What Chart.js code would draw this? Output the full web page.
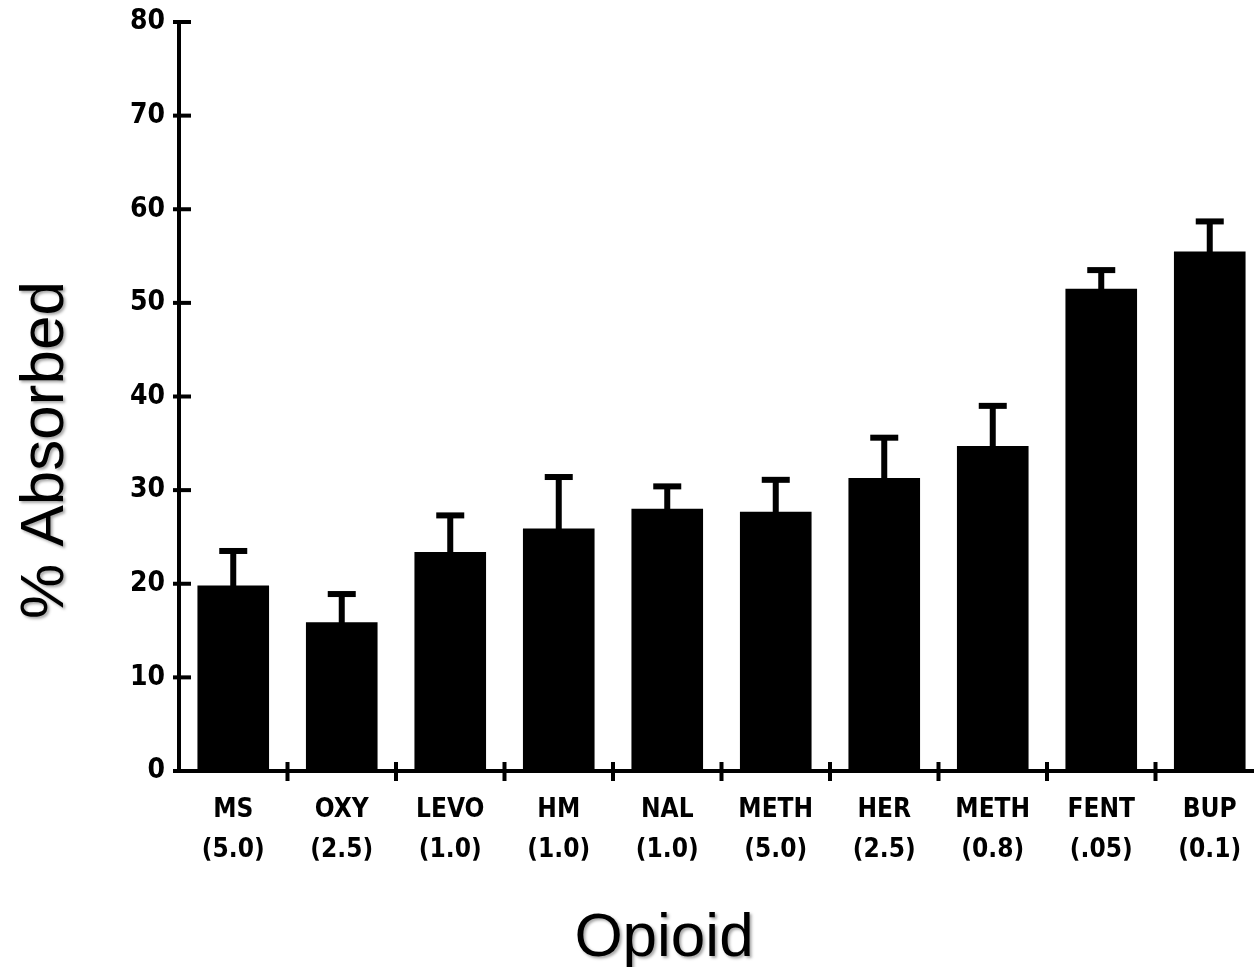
<!DOCTYPE html>
<html>
<head>
<meta charset="utf-8">
<script src="https://cdn.jsdelivr.net/npm/chart.js@4.4.1/dist/chart.umd.min.js"></script>
<style>
  html, body { margin: 0; padding: 0; background: #ffffff; overflow: hidden; }
  #wrap { position: relative; width: 1276px; height: 967px; }
</style>
</head>
<body>
<div id="wrap"><canvas id="c"></canvas></div>
<script>
// ---- data ----
const opioids = ["MS", "OXY", "LEVO", "HM", "NAL", "METH", "HER", "METH", "FENT", "BUP"];
const doses   = ["(5.0)", "(2.5)", "(1.0)", "(1.0)", "(1.0)", "(5.0)", "(2.5)", "(0.8)", "(.05)", "(0.1)"];
const absorbed = [19.8, 15.9, 23.4, 25.9, 28.0, 27.7, 31.3, 34.7, 51.5, 55.5];
const errorUp  = [3.7, 3.0, 3.9, 5.5, 2.4, 3.4, 4.3, 4.3, 2.0, 3.2];
const yTicks   = [0, 10, 20, 30, 40, 50, 60, 70, 80];
const yTitle = "% Absorbed";
const xTitle = "Opioid";

const labels = opioids.map((o, i) => [o, doses[i]]);

const errorBarPlugin = {
  id: 'errorBars',
  afterDatasetsDraw(chart) {
    const ctx = chart.ctx;
    const y = chart.scales.y;
    const meta = chart.getDatasetMeta(0);
    ctx.save();
    ctx.fillStyle = '#000';
    meta.data.forEach((bar, i) => {
      const top = y.getPixelForValue(absorbed[i] + errorUp[i]);
      const base = y.getPixelForValue(absorbed[i]);
      ctx.fillRect(bar.x - 3, top, 6, base - top + 1);
      ctx.fillRect(bar.x - 14, top - 3, 28, 6);
    });
    ctx.restore();
  }
};

const axisTickPlugin = {
  id: 'axisTicks',
  afterDraw(chart) {
    const ctx = chart.ctx;
    const xs = chart.scales.x, ys = chart.scales.y;
    const area = chart.chartArea;
    ctx.save();
    ctx.fillStyle = '#000';
    yTicks.forEach(v => {
      const py = ys.getPixelForValue(v);
      ctx.fillRect(area.left - 6, py - 2, 18, 4);
    });
    for (let i = 1; i < opioids.length; i++) {
      const px = (xs.getPixelForValue(i - 1) + xs.getPixelForValue(i)) / 2;
      ctx.fillRect(px - 2, area.bottom - 9, 4, 19);
    }
    // axis titles
    ctx.shadowColor = 'rgba(0,0,0,0.35)';
    ctx.shadowBlur = 3;
    ctx.shadowOffsetX = 2;
    ctx.shadowOffsetY = 2;
    ctx.font = '62px "Liberation Sans", Arial, sans-serif';
    ctx.textAlign = 'center';
    ctx.textBaseline = 'alphabetic';
    ctx.fillText(xTitle, 664, 956);
    ctx.translate(63, 450);
    ctx.rotate(-Math.PI / 2);
    ctx.fillText(yTitle, 0, 0);
    ctx.restore();
  }
};

new Chart(document.getElementById('c'), {
  type: 'bar',
  data: {
    labels: labels,
    datasets: [{
      data: absorbed,
      backgroundColor: '#000000',
      borderWidth: 0,
      categoryPercentage: 1.0,
      barPercentage: 0.66
    }]
  },
  options: {
    responsive: true,
    maintainAspectRatio: false,
    animation: false,
    layout: { padding: { top: 22, right: 12, bottom: 0, left: 0 } },
    plugins: { legend: { display: false }, tooltip: { enabled: false } },
    scales: {
      x: {
        offset: true,
        grid: { display: false, drawTicks: false },
        border: { display: true, color: '#000', width: 4 },
        ticks: {
          color: '#000',
          padding: 19,
          autoSkip: false,
          maxRotation: 0,
          font: { family: '"DejaVu Sans Condensed", "DejaVu Sans", sans-serif', weight: 'bold', size: 26, lineHeight: 1.55 }
        },
        afterFit(scale) { scale.height = 196; scale.paddingLeft = 0; scale.paddingRight = 0; }
      },
      y: {
        min: 0, max: 80,
        afterBuildTicks(scale) { scale.ticks = yTicks.map(v => ({ value: v })); },
        grid: { display: false, drawTicks: false },
        border: { display: true, color: '#000', width: 4 },
        ticks: {
          color: '#000',
          padding: 14,
          font: { family: '"DejaVu Sans Condensed", "DejaVu Sans", sans-serif', weight: 'bold', size: 28 }
        },
        afterFit(scale) { scale.width = 179; scale.paddingTop = 0; scale.paddingBottom = 0; }
      }
    }
  },
  plugins: [errorBarPlugin, axisTickPlugin]
});
</script>
</body>
</html>
